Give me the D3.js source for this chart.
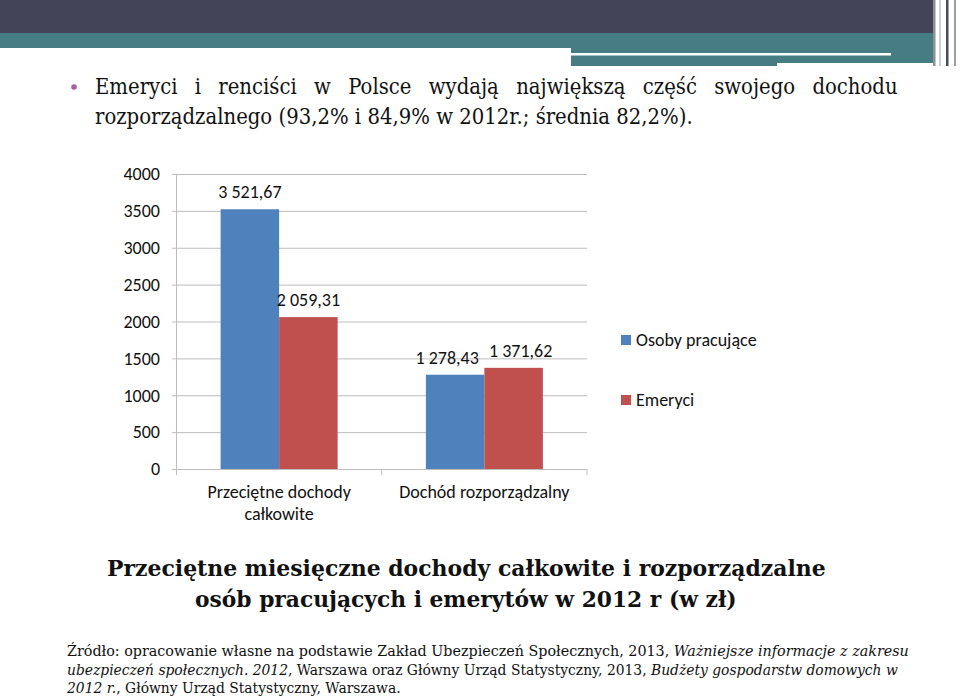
<!DOCTYPE html>
<html><head><meta charset="utf-8">
<script src="https://cdn.jsdelivr.net/npm/d3@7"></script>
<style>body{margin:0;background:#fff}svg{display:block}</style>
</head><body>
<svg id="c" width="960" height="697"></svg>
<script>
const categories = ["Przeciętne dochody|całkowite", "Dochód rozporządzalny"];
const seriesNames = ["Osoby pracujące", "Emeryci"];
const seriesValues = [[3521.67, 1278.43], [2059.31, 1371.62]];
const valueLabels = [["3 521,67", "1 278,43"], ["2 059,31", "1 371,62"]];
const yTicks = [0, 500, 1000, 1500, 2000, 2500, 3000, 3500, 4000];
const colors = ["#4f81bd", "#c0504d"];
const labelShift = [[0, -8], [0, 7]];

const svg = d3.select("#c");
const sans = '"Carlito"';
const serif = '"DejaVu Serif"';

// header
svg.append("rect").attr("x",0).attr("y",0).attr("width",933).attr("height",33).attr("fill","#434457");
svg.append("rect").attr("x",0).attr("y",33).attr("width",933).attr("height",15).attr("fill","#457d82");
svg.append("rect").attr("x",571).attr("y",48).attr("width",362).attr("height",15).attr("fill","#457d82");
svg.append("rect").attr("x",571).attr("y",63).attr("width",206).attr("height",3).attr("fill","#457d82");
svg.append("rect").attr("x",571).attr("y",53).attr("width",320).attr("height",2.5).attr("fill","#ffffff");
[[933,2.5,"#8d8f9c"],[939,2,"#c9d2d8"],[946,2.5,"#4a4b5e"],[954,2,"#9a9ca8"]].forEach(([x,w,c])=>{
  svg.append("rect").attr("x",x).attr("y",0).attr("width",w).attr("height",66).attr("fill",c);
});

function fit(sel, target){
  const w = sel.node().getComputedTextLength();
  return target / w;
}

// bullet text
svg.append("circle").attr("cx",74).attr("cy",87).attr("r",2.8).attr("fill","#a2639f");
const b2 = svg.append("text").style("font-family",serif).style("font-size","22px").attr("fill","#111");
b2.append("tspan").text("rozporządzalnego (93,2% i 84,9% w 2012r.; średnia 82,2%).");
const s2 = fit(b2, 598);
b2.attr("transform",`translate(95,124) scale(${s2},1)`);
const line1 = "Emeryci i renciści w Polsce wydają największą część swojego dochodu";
const b1 = svg.append("text").style("font-family",serif).style("font-size","22px").attr("fill","#111");
b1.append("tspan").text(line1);
const nat1 = b1.node().getComputedTextLength();
const nSp = line1.split(" ").length - 1;
b1.style("word-spacing", (((803/s2) - nat1)/nSp) + "px").attr("transform",`translate(95,94) scale(${s2},1)`);

// chart
const x0 = d3.scaleBand().domain(categories).range([176.5, 587]).paddingInner(0).paddingOuter(0);
const x1 = d3.scaleBand().domain(seriesNames).range([0, x0.bandwidth()]).paddingInner(0).paddingOuter(0.754);
const y = d3.scaleLinear().domain([0, 4000]).range([469, 174]);

const g = svg.append("g");
g.selectAll("line.grid").data(yTicks).join("line")
  .attr("x1",172).attr("x2",587).attr("y1",d=>y(d)+0.5).attr("y2",d=>y(d)+0.5)
  .attr("stroke","#bdbdbd").attr("stroke-width",1);
g.append("line").attr("x1",176.5).attr("x2",176.5).attr("y1",174).attr("y2",469).attr("stroke","#bdbdbd");
[176.5, ...categories.map(c=>x0(c)+x0.bandwidth())].forEach(x=>{
  g.append("line").attr("x1",x).attr("x2",x).attr("y1",469).attr("y2",475).attr("stroke","#bdbdbd");
});
g.selectAll("text.yt").data(yTicks).join("text")
  .attr("x",160).attr("y",d=>y(d)).attr("dy","0.35em").attr("text-anchor","end")
  .style("font-family",sans).style("font-size","18px").attr("fill","#111").text(d=>d);

seriesNames.forEach((s,si)=>{
  categories.forEach((c,ci)=>{
    const v = seriesValues[si][ci];
    const bx = x0(c) + x1(s);
    g.append("rect").attr("x",bx).attr("y",y(v)).attr("width",x1.bandwidth()).attr("height",y(0)-y(v)).attr("fill",colors[si]);
    g.append("text").attr("x",bx + x1.bandwidth()/2 + labelShift[si][ci]).attr("y",y(v)-11).attr("text-anchor","middle")
      .style("font-family",sans).style("font-size","18px").attr("fill","#111").text(valueLabels[si][ci]);
  });
});

categories.forEach(c=>{
  const parts = c.split("|");
  parts.forEach((p,i)=>{
    g.append("text").attr("x",x0(c)+x0.bandwidth()/2).attr("y",498+i*22).attr("text-anchor","middle")
      .style("font-family",sans).style("font-size","18px").attr("fill","#111").text(p);
  });
});

seriesNames.forEach((s,i)=>{
  const ly = 340 + i*60;
  g.append("rect").attr("x",621).attr("y",ly-5).attr("width",10).attr("height",10).attr("fill",colors[i]);
  g.append("text").attr("x",636).attr("y",ly).attr("dy","0.35em").style("font-family",sans).style("font-size","18px").attr("fill","#111").text(s);
});

// title
[["Przeciętne miesięczne dochody całkowite i rozporządzalne",107,826,576],["osób pracujących i emerytów w 2012 r (w zł)",195,737,607]].forEach(([t,a,b,yy])=>{
  const el = svg.append("text").style("font-family",serif).style("font-size","23px").style("font-weight","bold").attr("fill","#111");
  el.append("tspan").text(t);
  const s = fit(el, b-a);
  el.attr("transform",`translate(${a},${yy}) scale(${s},1)`);
});

// caption
const cap = [
  [[ "Źródło: opracowanie własne na podstawie Zakład Ubezpieczeń Społecznych, 2013, ", false],["Ważniejsze informacje z zakresu", true]],
  [[ "ubezpieczeń społecznych. 2012", true],[", Warszawa oraz Główny Urząd Statystyczny, 2013, ", false],["Budżety gospodarstw domowych w", true]],
  [[ "2012 r.", true],[", Główny Urząd Statystyczny, Warszawa.", false]]
];
const capW = [842, 831, 334];
cap.forEach((parts,i)=>{
  const el = svg.append("text").style("font-family",serif).style("font-size","15px").attr("fill","#111");
  parts.forEach(([t,it])=>el.append("tspan").style("font-style",it?"italic":"normal").text(t));
  const s = fit(el, capW[i]);
  el.attr("transform",`translate(67,${656+i*18.5}) scale(${s},1)`);
});
</script>
</body></html>
